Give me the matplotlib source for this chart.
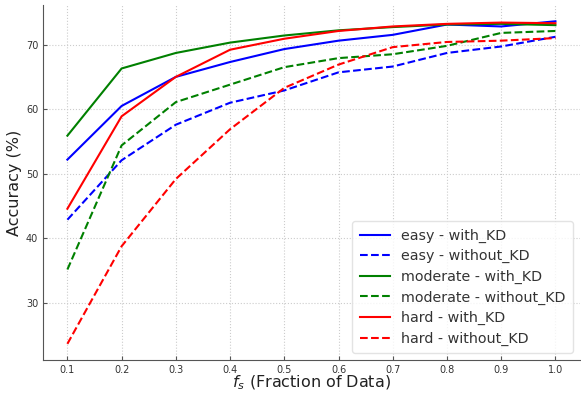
import matplotlib
matplotlib.use("Agg")
import matplotlib.pyplot as plt

# --- Data ---
fractions = [0.1, 0.2, 0.3, 0.4, 0.5, 0.6, 0.7, 0.8, 0.9, 1.0]

easy_kd = [52.2, 60.5, 65.0, 67.3, 69.3, 70.6, 71.5, 73.1, 72.8, 73.6]
easy_nokd = [42.9, 52.1, 57.6, 61.0, 62.9, 65.7, 66.6, 68.7, 69.7, 71.2]
moderate_kd = [55.9, 66.3, 68.7, 70.3, 71.4, 72.2, 72.7, 73.1, 73.2, 73.0]
moderate_nokd = [35.2, 54.4, 61.1, 63.8, 66.5, 67.9, 68.5, 69.8, 71.8, 72.1]
hard_kd = [44.6, 58.9, 65.0, 69.2, 70.9, 72.1, 72.8, 73.2, 73.4, 73.3]
hard_nokd = [23.7, 38.8, 49.2, 56.9, 63.3, 66.9, 69.6, 70.4, 70.6, 71.0]

fig = plt.figure(figsize=(5.81, 3.96), dpi=100)
ax = fig.add_axes([0.074, 0.091, 0.924, 0.896])

ax.plot(fractions, easy_kd, color='blue', lw=1.5, label='easy - with_KD')
ax.plot(fractions, easy_nokd, color='blue', lw=1.5, ls='--', label='easy - without_KD')
ax.plot(fractions, moderate_kd, color='green', lw=1.5, label='moderate - with_KD')
ax.plot(fractions, moderate_nokd, color='green', lw=1.5, ls='--', label='moderate - without_KD')
ax.plot(fractions, hard_kd, color='red', lw=1.5, label='hard - with_KD')
ax.plot(fractions, hard_nokd, color='red', lw=1.5, ls='--', label='hard - without_KD')

ax.set_xticks(fractions)
ax.set_xticklabels([f'{f:.1f}' for f in fractions])
ax.set_yticks([30, 40, 50, 60, 70])
ax.tick_params(direction='in', labelsize=7, labelcolor='#333333', colors='#555555', length=3)

for side in ['top', 'right']:
    ax.spines[side].set_visible(False)
for side in ['left', 'bottom']:
    ax.spines[side].set_color('#555555')

ax.grid(True, linestyle=':', color='#cccccc', linewidth=0.8)
ax.set_axisbelow(True)

ax.set_xlabel(r'$f_s$ (Fraction of Data)', fontsize=11.5, color='#222222')
ax.set_ylabel('Accuracy (%)', fontsize=11.5, color='#222222')
ax.xaxis.set_label_coords(0.5, -0.038)
ax.yaxis.set_label_coords(-0.04, 0.5)

leg = ax.legend(loc='lower right', fontsize=10.3, frameon=True, handlelength=2.1,
                labelspacing=0.45, borderpad=0.5, borderaxespad=0.5)
leg.get_frame().set_edgecolor('#dddddd')
for t in leg.get_texts():
    t.set_color('#333333')

fig.savefig('out.png', dpi=100)
